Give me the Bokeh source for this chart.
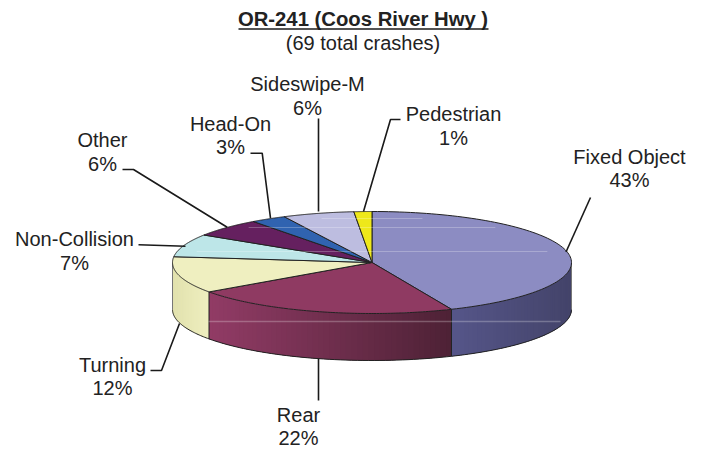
import numpy as np
from bokeh.plotting import figure
from bokeh.embed import file_html
from bokeh.resources import INLINE
from bokeh.core.properties import value

# ---- data ----
categories = ["Fixed Object", "Rear", "Turning", "Non-Collision", "Other", "Head-On", "Sideswipe-M", "Pedestrian"]
crashes = [30, 15, 8, 5, 4, 2, 4, 1]
percent_labels = ["43%", "22%", "12%", "7%", "6%", "3%", "6%", "1%"]
top_colors = ["#8C8CC2", "#8F3A62", "#EFEFC0", "#BDE6E8", "#65205F", "#3063B0", "#BDBDE0", "#EEE81A"]
side_from = ["#56568A", "#923C66", "#E2E2AE"]
side_to = ["#44446A", "#4E2236", "#EFEFC0"]

# ---- layout (page pixels) ----
W, H = 703, 451
cx, cy, rx, ry, depth = 371.5, 262.0, 199.5, 51.0, 47.0
label_pos = {
    "Fixed Object": (629, 156, 179), "Rear": (298, 414, 437), "Turning": (112, 364, 387),
    "Non-Collision": (74, 238, 262), "Other": (102, 139, 163), "Head-On": (230, 123, 146),
    "Sideswipe-M": (307, 83, 107), "Pedestrian": (453, 113, 137),
}
leaders = [
    ([565.5, 590], [251.5, 197]), ([363, 390, 400], [211, 119, 119]), ([318, 318], [211, 118]),
    ([270, 261.7, 250], [217.7, 152.7, 152.7]), ([226.7, 133, 122], [226.7, 169, 169]),
    ([185, 138], [245.7, 244.3]), ([179, 161, 150], [323, 370, 370]), ([318, 318], [358, 400]),
]

p = figure(width=W, height=H, x_range=(0, W), y_range=(H, 0), output_backend="svg",
           toolbar_location=None, min_border=0)
p.axis.visible = False
p.grid.visible = False
p.outline_line_color = None
p.background_fill_color = "white"

def rim(a):
    return cx + rx * np.sin(a), cy - ry * np.cos(a)

def mix(c1, c2, f):
    a = np.array([int(c1[i:i + 2], 16) for i in (1, 3, 5)])
    b = np.array([int(c2[i:i + 2], 16) for i in (1, 3, 5)])
    m = (a + (b - a) * f).astype(int)
    return "#%02X%02X%02X" % tuple(m)

vals = np.array(crashes, float)
edges = np.concatenate([[0], np.cumsum(vals)]) / vals.sum() * 2 * np.pi

# side walls with gradient strips (each strip overlaps the next so no seams show)
wall_idx = 0
for i in range(len(vals)):
    a0, a1 = max(edges[i], np.pi / 2), min(edges[i + 1], 1.5 * np.pi)
    if a1 <= a0:
        continue
    n = 48
    ang = np.linspace(a0, a1, n + 1)
    xs_all, ys_all = rim(ang)
    xl, xr = xs_all.min(), xs_all.max()
    for k in range(n):
        j = min(k + 3, n)
        seg_x, seg_y = xs_all[k:j + 1], ys_all[k:j + 1]
        f = ((xs_all[k] + xs_all[k + 1]) / 2 - xl) / (xr - xl)
        c = mix(side_from[wall_idx], side_to[wall_idx], f)
        p.patch(np.r_[seg_x, seg_x[::-1]], np.r_[seg_y, seg_y[::-1] + depth],
                fill_color=c, line_color=None)
    p.line(xs_all, ys_all + depth, line_color="#222222", line_width=1)
    wall_idx += 1

xe, ye = rim(np.array([np.pi / 2, 1.5 * np.pi]))
for a in [edges[1], edges[2]]:
    xa, ya = rim(a)
    p.line([xa, xa], [ya, ya + depth], line_color="#222222", line_width=1)
p.line([xe[1], xe[1]], [ye[1], ye[1] + depth], line_color="#777777", line_width=1)
p.line([xe[0], xe[0]], [ye[0], ye[0] + depth], line_color="#777777", line_width=1)

# top face
for i in range(len(vals)):
    ang = np.linspace(edges[i], edges[i + 1], 100)
    xr_, yr_ = rim(ang)
    p.patch(np.r_[cx, xr_], np.r_[cy, yr_], fill_color=top_colors[i], line_color="#222222", line_width=1)

# faint scan streaks seen in the source
for yy, f in [(218, 0.5), (227, 0.85), (251, 0.9)]:
    half = rx * np.sqrt(1 - ((yy - cy) / ry) ** 2) * f
    p.line([cx - half, cx + half], [yy, yy], line_color="white", line_alpha=0.25, line_width=1)
p.line([208, 560], [321, 321], line_color="white", line_alpha=0.25, line_width=1.5)

# leaders
for lx, ly in leaders:
    p.line(lx, ly, line_color="#1A1A1A", line_width=1.6)

# labels
font = value("Liberation Sans")
for name, pct in zip(categories, percent_labels):
    x, y1, y2 = label_pos[name]
    p.text([x], [y1], text=[name], text_font=font, text_font_size="20px", text_color="#222222",
           text_align="center", text_baseline="middle")
    p.text([x], [y2], text=[pct], text_font=font, text_font_size="20px", text_color="#222222",
           text_align="center", text_baseline="middle")

p.text([362.5], [18], text=["OR-241 (Coos River Hwy )"], text_font=font, text_font_size="20.3px",
       text_font_style="bold", text_color="#222222", text_align="center", text_baseline="middle")
p.line([238, 488], [28.5, 28.5], line_color="#1A1A1A", line_width=1.6)
p.text([362.5], [42], text=["(69 total crashes)"], text_font=font, text_font_size="20px",
       text_color="#222222", text_align="center", text_baseline="middle")

open("out.html", "w").write(file_html(p, INLINE))
